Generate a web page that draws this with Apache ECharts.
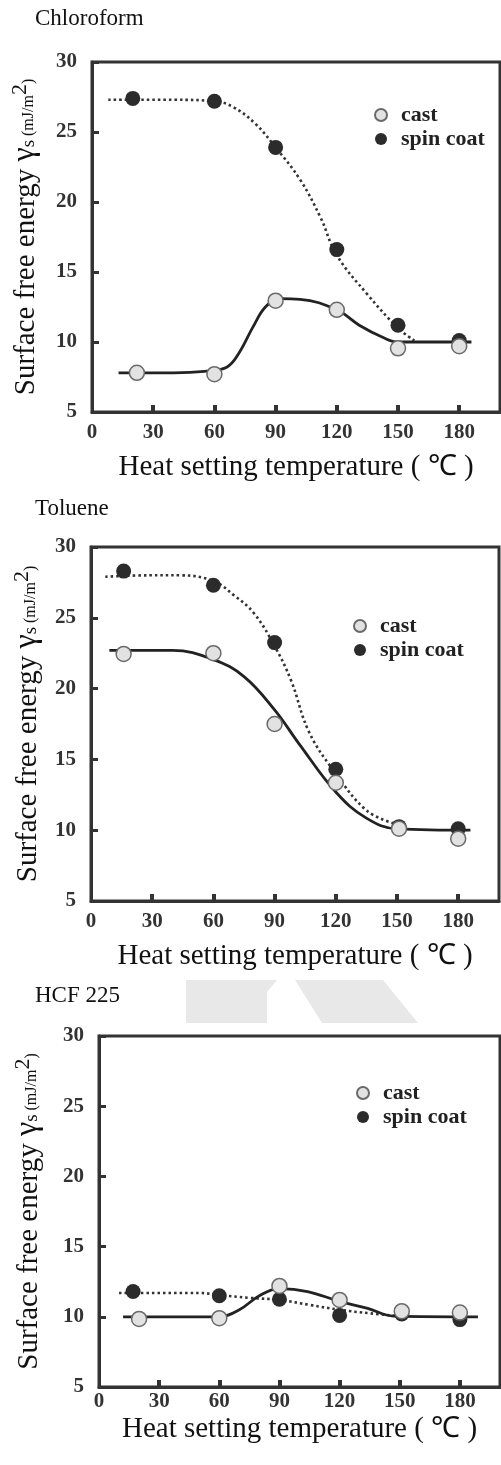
<!DOCTYPE html>
<html>
<head>
<meta charset="utf-8">
<script src="https://cdn.jsdelivr.net/npm/echarts@6/dist/echarts.min.js"></script>
<style>
  html, body { margin: 0; padding: 0; background: #fff; }
  #chart { width: 501px; height: 1465px; }
</style>
</head>
<body>
<div id="chart"></div>
<script>
// panel titles
const panelTitles = ['Chloroform', 'Toluene', 'HCF 225'];
const legendNames = ['cast', 'spin coat'];
const xTickValues = [30, 60, 90, 120, 150, 180];
const xLabelValues = [0, 30, 60, 90, 120, 150, 180];

// measured points [temperature, energy]
const chloroformCast = [[22, 7.8], [60, 7.7], [90, 12.95], [120, 12.3], [150, 9.55], [180, 9.7]];
const chloroformSpin = [[20, 27.4], [60, 27.2], [90, 23.9], [120, 16.6], [150, 11.2], [180, 10.1]];
const tolueneCast = [[16, 22.45], [60, 22.5], [90, 17.5], [120, 13.35], [151, 10.1], [180, 9.4]];
const tolueneSpin = [[16, 28.3], [60, 27.3], [90, 23.25], [120, 14.3], [151, 10.25], [180, 10.1]];
const hcfCast = [[20, 9.85], [60, 9.9], [90, 12.2], [120, 11.2], [151, 10.4], [180, 10.3]];
const hcfSpin = [[17, 11.8], [60, 11.5], [90, 11.25], [120, 10.1], [151, 10.2], [180, 9.8]];

// fitted curves
const chloroformCastFit = [[13, 7.8], [40, 7.8], [55, 7.9], [66, 8.2], [72, 9.2], [79, 11.1], [85, 12.5], [92, 13.1], [102, 13.05], [120, 12.3], [131, 11.2], [143, 10.3], [150, 10.0], [186, 10.0]];
const chloroformSpinFit = [[8, 27.3], [40, 27.3], [60, 27.2], [69, 26.8], [80, 25.6], [90, 23.9], [102, 21.6], [112, 18.9], [120, 16.2], [135, 13.4], [150, 11.0], [158, 10.1]];
const tolueneCastFit = [[9, 22.7], [40, 22.7], [60, 22.05], [75, 20.85], [90, 18.5], [102, 16.1], [120, 12.7], [135, 10.85], [150, 10.1], [186, 10.0]];
const tolueneSpinFit = [[7, 27.9], [29, 28.0], [44, 28.0], [60, 27.6], [70, 26.6], [80, 25.3], [90, 23.0], [98, 20.6], [107, 16.9], [120, 14.0], [135, 11.4], [148, 10.5]];
const hcfCastFit = [[12, 10.0], [60, 10.0], [70, 10.5], [80, 11.5], [90, 12.0], [104, 11.8], [120, 11.1], [134, 10.6], [147, 10.05], [189, 10.0]];
const hcfSpinFit = [[10, 11.7], [50, 11.7], [60, 11.55], [75, 11.35], [90, 11.2], [105, 10.85], [120, 10.5], [135, 10.25], [150, 10.05]];

const castSets = [chloroformCast, tolueneCast, hcfCast];
const spinSets = [chloroformSpin, tolueneSpin, hcfSpin];
const castFits = [chloroformCastFit, tolueneCastFit, hcfCastFit];
const spinFits = [chloroformSpinFit, tolueneSpinFit, hcfSpinFit];

const serif = 'Liberation Serif, Times New Roman, serif';

// layout of the three panels
const grids = [
  { left: 92, top: 62, width: 408, height: 350 },
  { left: 91, top: 547, width: 408, height: 354 },
  { left: 99, top: 1036, width: 401, height: 351 }
];
const titleTops = [2, 492, 979];
const legendPos = [[369, 99], [348, 610], [351, 1077]];
const xLabelMargin = [10, 10, 4];
const xNameGap = [41, 41, 28];
const yNameGap = [51, 48, 55];

let chart = echarts.init(document.getElementById('chart'), null, { renderer: 'canvas' });

let option = {
  animation: false,
  backgroundColor: '#fff',
  title: panelTitles.map((t, i) => ({
    text: t,
    left: 30,
    top: titleTops[i],
    textStyle: { fontFamily: serif, fontWeight: 'normal', fontSize: 23, color: '#111' }
  })),
  legend: legendPos.map(p => ({
    data: legendNames,
    orient: 'vertical',
    left: p[0],
    top: p[1],
    icon: 'circle',
    itemWidth: 12,
    itemHeight: 12,
    itemGap: 2,
    selectedMode: false,
    textStyle: { fontFamily: serif, fontWeight: 'bold', fontSize: 22, color: '#222', padding: [0, 0, 0, 9] }
  })),
  grid: grids.map(g => Object.assign({
    show: true,
    borderColor: '#333',
    borderWidth: 3,
    backgroundColor: 'transparent'
  }, g)),
  xAxis: grids.map((g, i) => ({
    type: 'value',
    gridIndex: i,
    min: 0,
    max: 200,
    name: 'Heat setting temperature ( ℃ )',
    nameLocation: 'middle',
    nameGap: xNameGap[i],
    nameTextStyle: { fontFamily: serif, fontSize: 29, color: '#111' },
    axisLine: { lineStyle: { color: '#333', width: 3 } },
    axisTick: { inside: true, length: 7, customValues: xTickValues, lineStyle: { color: '#333', width: 4 } },
    axisLabel: {
      customValues: xLabelValues,
      margin: xLabelMargin[i],
      fontFamily: serif, fontWeight: 'bold', fontSize: 21, color: '#333'
    },
    splitLine: { show: false }
  })),
  yAxis: grids.map((g, i) => ({
    type: 'value',
    gridIndex: i,
    min: 5,
    max: 30,
    interval: 5,
    name: '{a|Surface free energy }{g|γ}{s|s}{u| (mJ/m}{p|2}{u|)}',
    nameLocation: 'middle',
    nameRotate: 90,
    nameGap: yNameGap[i],
    nameTextStyle: {
      fontFamily: serif,
      color: '#111',
      rich: {
        a: { fontFamily: serif, fontSize: 29, color: '#111', verticalAlign: 'bottom' },
        g: { fontFamily: serif, fontSize: 32, color: '#111', verticalAlign: 'bottom' },
        s: { fontFamily: serif, fontSize: 19, color: '#111', verticalAlign: 'bottom', padding: [0, 0, 2, 0] },
        u: { fontFamily: serif, fontSize: 16, color: '#111', verticalAlign: 'bottom', padding: [0, 0, 4, 0] },
        p: { fontFamily: serif, fontSize: 22, color: '#111', verticalAlign: 'top' }
      }
    },
    axisLine: { lineStyle: { color: '#333', width: 3 } },
    axisTick: { inside: true, length: 7, lineStyle: { color: '#333', width: 3 } },
    axisLabel: { margin: 15, fontFamily: serif, fontWeight: 'bold', fontSize: 21, color: '#333' },
    splitLine: { show: false }
  })),
  graphic: [
    {
      type: 'polygon', z: -10, silent: true,
      shape: { points: [[186, 980], [277, 980], [267, 992], [267, 1023], [186, 1023]] },
      style: { fill: '#e8e8e8' }
    },
    {
      type: 'polygon', z: -10, silent: true,
      shape: { points: [[295, 980], [383, 980], [418, 1023], [322, 1023]] },
      style: { fill: '#e8e8e8' }
    }
  ],
  series: []
};

for (let i = 0; i < 3; i++) {
  option.series.push({
    name: 'spin coat fit',
    type: 'line',
    xAxisIndex: i, yAxisIndex: i,
    data: spinFits[i],
    smooth: 0.4,
    symbol: 'none',
    lineStyle: { color: '#333', width: 2.6, type: [2.5, 3] },
    z: 2
  });
  option.series.push({
    name: 'cast fit',
    type: 'line',
    xAxisIndex: i, yAxisIndex: i,
    data: castFits[i],
    smooth: 0.4,
    symbol: 'none',
    lineStyle: { color: '#222', width: 2.8 },
    z: 2
  });
  option.series.push({
    name: 'spin coat',
    type: 'scatter',
    xAxisIndex: i, yAxisIndex: i,
    data: spinSets[i],
    symbolSize: 15,
    itemStyle: { color: '#2b2b2b', opacity: 1 },
    z: 3
  });
  option.series.push({
    name: 'cast',
    type: 'scatter',
    xAxisIndex: i, yAxisIndex: i,
    data: castSets[i],
    symbolSize: 15,
    itemStyle: { color: '#e2e2e2', borderColor: '#6a6a6a', borderWidth: 1.5, opacity: 1 },
    z: 4
  });
}

chart.setOption(option);
</script>
</body>
</html>
